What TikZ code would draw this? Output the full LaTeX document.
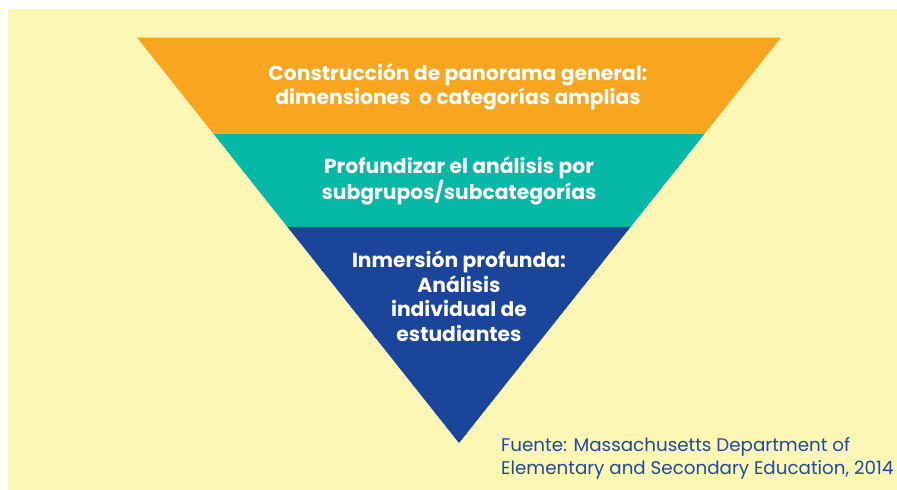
\documentclass[tikz,border=0pt]{standalone}
\usepackage{fontspec}
\setmainfont{Poppins}
\usepackage{xcolor}
\usetikzlibrary{calc}

\definecolor{fondo}{HTML}{FDF7B6}
\definecolor{naranja}{HTML}{F8A61F}
\definecolor{turquesa}{HTML}{05B9A6}
\definecolor{azul}{HTML}{1B449B}
\definecolor{fuente}{HTML}{2049A0}

\tikzset{
	nivel/.style = {text = white, font = \fontsize{20.3}{24.5}\selectfont\bfseries, align = center},
	cita/.style = {text = fuente, font = \fontsize{18.3}{23}\selectfont, align = left, anchor = base west, inner sep = 0pt}
}

\begin{document}
\begin{tikzpicture}[x = 1pt, y = -1pt]
					\def\corte{0.238};
					\def\corteB{0.467};

					\useasboundingbox (0,0) rectangle (897,490);
					\fill [white] (0,0) rectangle (897,490);
					\fill [fondo] (8,9) rectangle (897,490);

					\begin{scope}
						\coordinate (izq) at (137,37.5);
						\coordinate (der) at (781,37.5);
						\coordinate (punta) at (459,443);
						\coordinate (izqA) at ($(izq)!\corte!(punta)$);
						\coordinate (derA) at ($(der)!\corte!(punta)$);
						\coordinate (izqB) at ($(izq)!\corteB!(punta)$);
						\coordinate (derB) at ($(der)!\corteB!(punta)$);
					\end{scope}

					\begin{scope}
						\fill [naranja] (izq) -- (der) -- (derA) -- (izqA) -- cycle;
						\fill [turquesa] (izqA) -- (derA) -- (derB) -- (izqB) -- cycle;
						\fill [azul] (izqB) -- (derB) -- (punta) -- cycle;
					\end{scope}

					\begin{scope}
						\node [nivel] (general) at (458,87) {Construcción de panorama general:\\dimensiones\ \ o categorías amplias};
						\node [nivel] (subgrupos) at (459,181) {Profundizar el análisis por\\subgrupos/subcategorías};
						\node [nivel] (individual) at (459,296) {Inmersión profunda:\\Análisis\\individual de\\estudiantes};
						\node [cita] (fuente) at (501,474) {Fuente: Massachusetts Department of\\Elementary and Secondary Education, 2014};
					\end{scope}
				\end{tikzpicture}
\end{document}
